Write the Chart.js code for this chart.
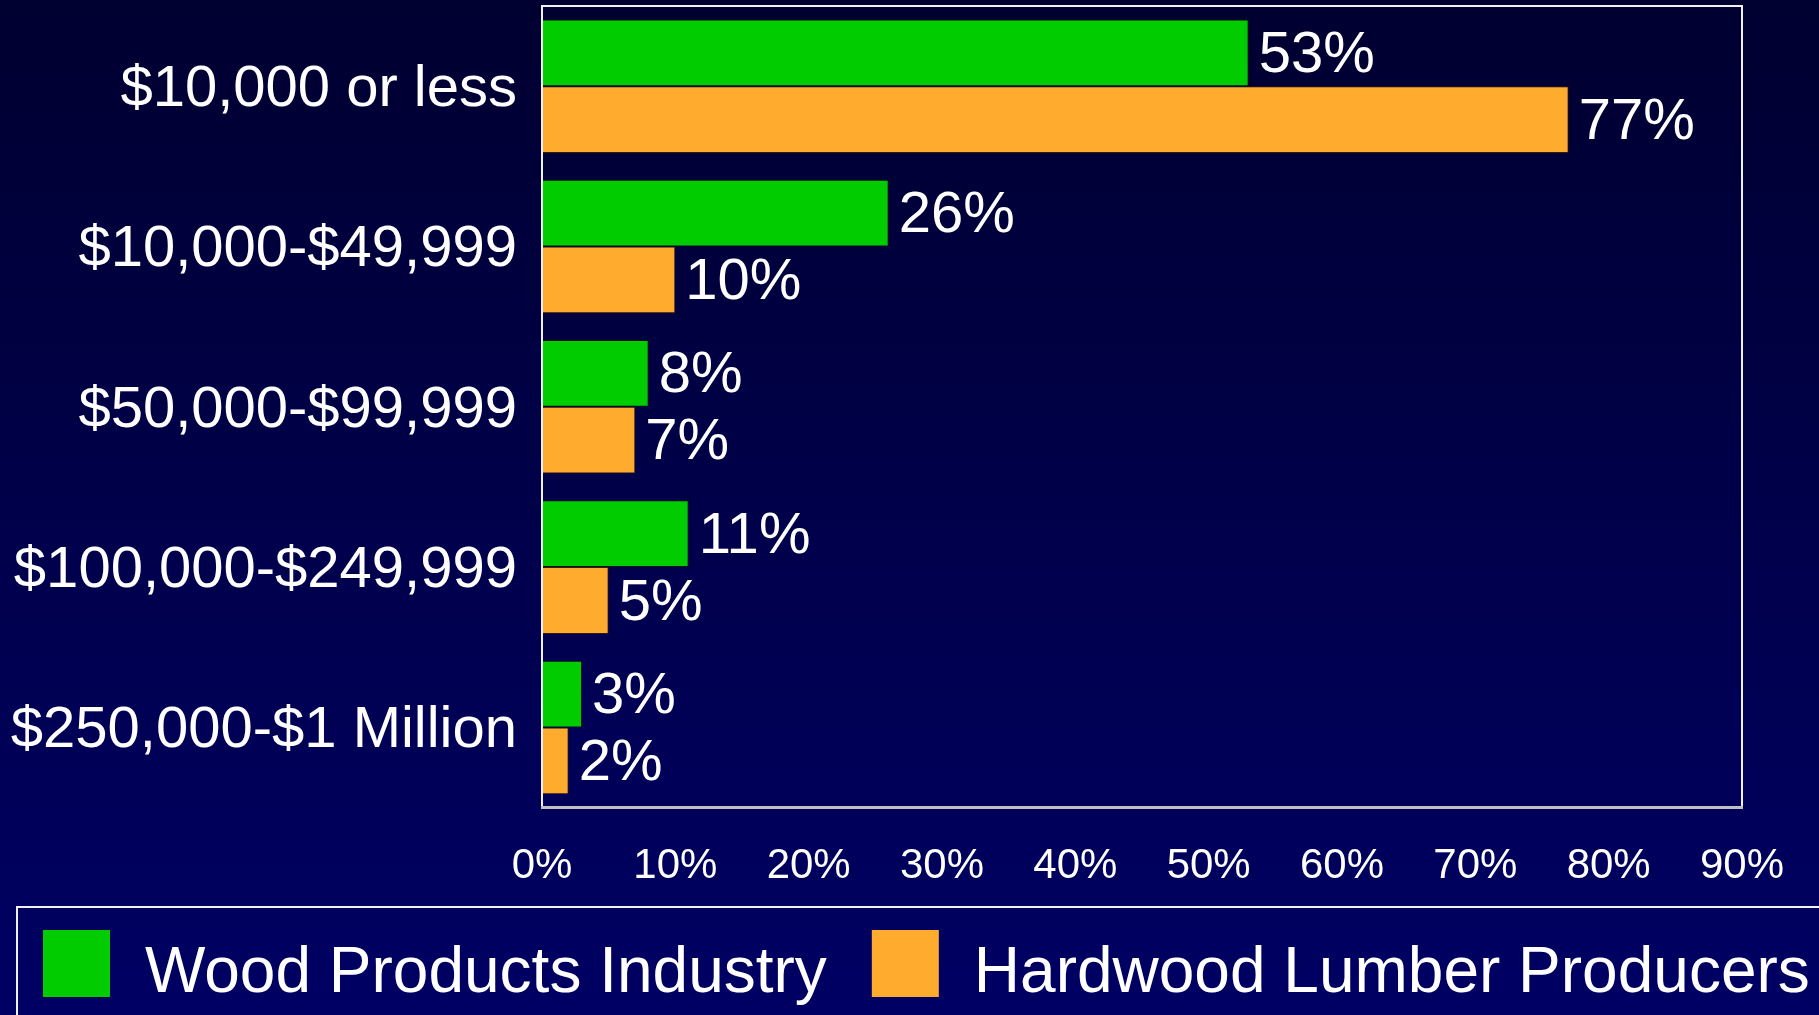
<!DOCTYPE html>
<html>
<head>
<meta charset="utf-8">
<title>Annual sales distribution</title>
<script src="https://cdn.jsdelivr.net/npm/chart.js@4.4.1/dist/chart.umd.min.js"></script>
<style>
  html, body { margin: 0; padding: 0; overflow: hidden; background: #000048; }
  #wrap { position: relative; width: 1819px; height: 1015px; }
</style>
</head>
<body>
<div id="wrap"><canvas id="chart"></canvas></div>
<script>
// Sales classes (categories)
const categories = [
  '$10,000 or less',
  '$10,000-$49,999',
  '$50,000-$99,999',
  '$100,000-$249,999',
  '$250,000-$1 Million'
];
// Share of respondents in each class, percent
const woodProducts = [53, 26, 8, 11, 3];
const hardwoodLumber = [77, 10, 7, 5, 2];
const seriesNames = ['Wood Products Industry', 'Hardwood Lumber Producers'];
// Value axis tick settings (percent)
const axisMin = 0;
const axisMax = 90;
const axisStep = 10;

const FONT = "'Liberation Sans', Arial, Helvetica, sans-serif";
const GREEN = '#00cc00';
const ORANGE = '#ffac2e';

// Vertical navy gradient behind everything
const backdrop = {
  id: 'backdrop',
  beforeDraw(chart) {
    const { ctx, width, height } = chart;
    const g = ctx.createLinearGradient(0, 0, 0, height);
    g.addColorStop(0, '#000030');
    g.addColorStop(1, '#000064');
    ctx.save();
    ctx.fillStyle = g;
    ctx.fillRect(0, 0, width, height);
    ctx.restore();
  }
};

// Frame around the plot area: light top/left/right, grey bottom
const plotFrame = {
  id: 'plotFrame',
  afterDatasetsDraw(chart) {
    const { ctx, chartArea: a } = chart;
    ctx.save();
    ctx.lineWidth = 2;
    ctx.strokeStyle = '#f0f0f0';
    ctx.beginPath();
    ctx.moveTo(a.left, a.bottom);
    ctx.lineTo(a.left, a.top);
    ctx.lineTo(a.right, a.top);
    ctx.lineTo(a.right, a.bottom);
    ctx.stroke();
    ctx.lineWidth = 3;
    ctx.strokeStyle = '#c0c0c0';
    ctx.beginPath();
    ctx.moveTo(a.left - 1, a.bottom);
    ctx.lineTo(a.right + 1, a.bottom);
    ctx.stroke();
    ctx.restore();
  }
};

// Percent labels just past the end of each bar
const barValues = {
  id: 'barValues',
  afterDatasetsDraw(chart) {
    const { ctx } = chart;
    ctx.save();
    ctx.fillStyle = '#ffffff';
    ctx.font = '58px ' + FONT;
    ctx.textAlign = 'left';
    ctx.textBaseline = 'middle';
    chart.data.datasets.forEach((ds, di) => {
      const meta = chart.getDatasetMeta(di);
      meta.data.forEach((bar, i) => {
        ctx.fillText(ds.data[i] + '%', bar.x + 10, bar.y + 3);
      });
    });
    ctx.restore();
  }
};

// Boxed legend along the bottom edge
const boxedLegend = {
  id: 'boxedLegend',
  afterDraw(chart) {
    const { ctx, width, height } = chart;
    const frameTop = height - 108;
    const frameLeft = 17;
    ctx.save();
    ctx.lineWidth = 2;
    ctx.strokeStyle = '#f0f0f0';
    ctx.beginPath();
    ctx.moveTo(frameLeft, height + 5);
    ctx.lineTo(frameLeft, frameTop);
    ctx.lineTo(width + 5, frameTop);
    ctx.stroke();

    const swatch = 67;
    const swatchTop = frameTop + 23;
    ctx.font = '64px ' + FONT;
    ctx.textAlign = 'left';
    ctx.textBaseline = 'alphabetic';
    let x = 43;
    chart.data.datasets.forEach((ds) => {
      ctx.fillStyle = ds.backgroundColor;
      ctx.fillRect(x, swatchTop, swatch, swatch);
      const tx = x + swatch + 35;
      ctx.fillStyle = '#ffffff';
      ctx.fillText(ds.label, tx, swatchTop + 62);
      x = tx + ctx.measureText(ds.label).width + 45;
    });
    ctx.restore();
  }
};

new Chart(document.getElementById('chart'), {
  type: 'bar',
  data: {
    labels: categories,
    datasets: [
      {
        label: seriesNames[0],
        data: woodProducts,
        backgroundColor: GREEN,
        borderColor: 'rgba(20,20,20,0.9)',
        borderWidth: 1
      },
      {
        label: seriesNames[1],
        data: hardwoodLumber,
        backgroundColor: ORANGE,
        borderColor: 'rgba(60,30,0,0.9)',
        borderWidth: 1
      }
    ]
  },
  options: {
    indexAxis: 'y',
    responsive: true,
    maintainAspectRatio: false,
    animation: false,
    events: [],
    layout: { padding: { top: 6, right: 77, bottom: 89, left: 0 } },
    datasets: {
      bar: { categoryPercentage: 0.833, barPercentage: 1.0 }
    },
    plugins: {
      legend: { display: false },
      tooltip: { enabled: false }
    },
    scales: {
      x: {
        min: axisMin,
        max: axisMax,
        grid: { display: false, drawTicks: false },
        border: { display: false },
        ticks: {
          stepSize: axisStep,
          padding: 34,
          color: '#ffffff',
          font: { family: FONT, size: 42 },
          callback: (v) => v + '%'
        }
      },
      y: {
        grid: { display: false, drawTicks: false },
        border: { display: false },
        ticks: {
          padding: 25,
          labelOffset: 4,
          color: '#ffffff',
          font: { family: FONT, size: 58 }
        },
        afterFit(scale) {
          scale.width = 542;
          scale.paddingTop = 0;
          scale.paddingBottom = 0;
        }
      }
    }
  },
  plugins: [backdrop, plotFrame, barValues, boxedLegend]
});
</script>
</body>
</html>
